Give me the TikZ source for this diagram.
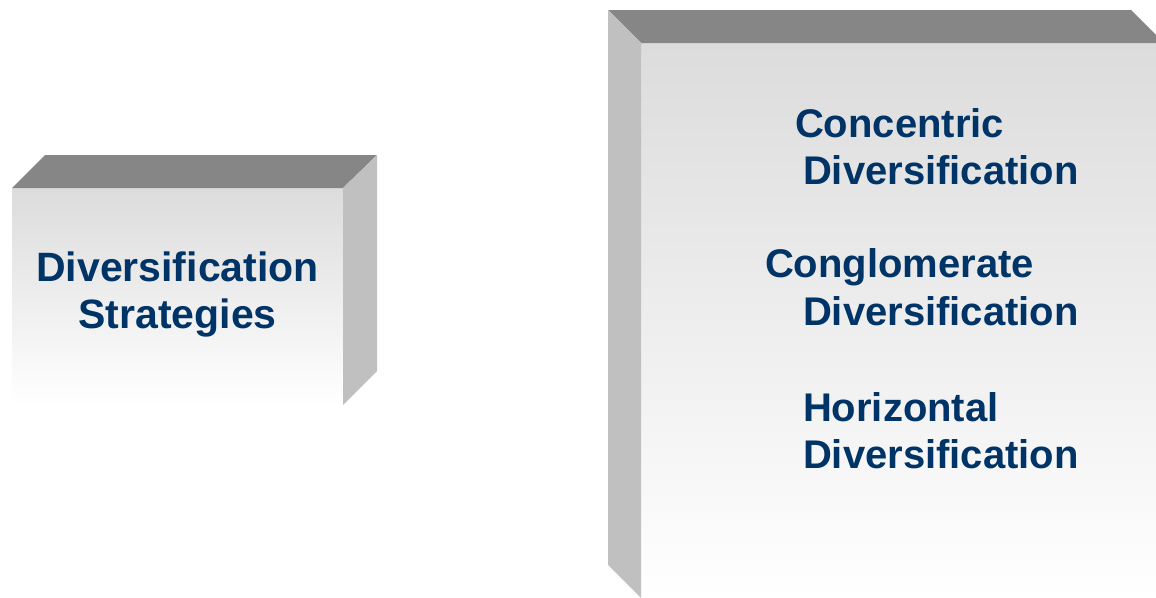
\documentclass[tikz,border=0pt]{standalone}
\usepackage{fontspec}
\setmainfont{Liberation Sans}
\definecolor{topface}{HTML}{868686}
\definecolor{sideface}{HTML}{C0C0C0}
\definecolor{frontface}{HTML}{DCDCDC}
\definecolor{navy}{HTML}{003366}
\tikzset{
  lbl/.style={inner sep=0pt, outer sep=0pt, text=navy, font=\fontsize{40}{46.6}\selectfont\bfseries},
  biglbl/.style={lbl, font=\fontsize{41}{46.6}\selectfont\bfseries},
  topf/.style={fill=topface},
  sidef/.style={fill=sideface},
}
\begin{document}
\begin{tikzpicture}[x=1pt,y=-1pt]
\useasboundingbox (0,0) rectangle (1156,597);
\begin{scope}
\clip (0,0) rectangle (1156,597);
% left box
\shade[top color=frontface, bottom color=white] (12,188) rectangle (343,405);
\fill[topf] (12,188) -- (45,155) -- (377,155) -- (343,188) -- cycle;
\fill[sidef] (343,188) -- (377,155) -- (377,371) -- (343,405) -- cycle;
% right box
\shade[top color=frontface, bottom color=white] (641,43) rectangle (1164,598);
\fill[topf] (608,10) -- (1131,10) -- (1164,43) -- (641,43) -- cycle;
\fill[sidef] (608,10) -- (641,43) -- (641,598) -- (608,565) -- cycle;
\end{scope}
% texts
\node[biglbl, align=center, anchor=base] (strat) at (177.5,328.3) {Diversification\\Strategies};
\node[lbl, anchor=base west] (conc) at (795,137.7) {Concentric};
\node[lbl, anchor=base west] (concd) at (803,184.3) {Diversification};
\node[lbl, anchor=base west] (cong) at (765,277.5) {Conglomerate};
\node[lbl, anchor=base west] (congd) at (803,325) {Diversification};
\node[lbl, anchor=base west] (hor) at (803,421.7) {Horizontal};
\node[lbl, anchor=base west] (hord) at (803,468.3) {Diversification};
\end{tikzpicture}
\end{document}
